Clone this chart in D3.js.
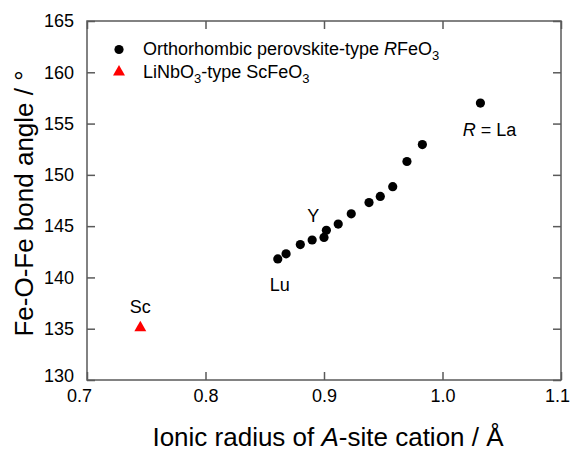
<!DOCTYPE html>
<html lang="en">
<head>
<meta charset="utf-8">
<title>Fe-O-Fe bond angle vs ionic radius</title>
<style>
  body { margin: 0; background: #fff; }
  text { font-family: Arial, "Liberation Sans", sans-serif; fill: #000; }
</style>
</head>
<body>
<div id="chart"></div>
<script src="https://cdn.jsdelivr.net/npm/d3@7/dist/d3.min.js"></script>
<script>
// orthorhombic RFeO3 (La ... Lu)
const rLabels = ['La', 'Pr', 'Nd', 'Sm', 'Eu', 'Gd', 'Tb', 'Dy', 'Y', 'Ho', 'Er', 'Tm', 'Yb', 'Lu'];
const rRadius = [1.032, 0.983, 0.970, 0.958, 0.9475, 0.938, 0.923, 0.912, 0.902, 0.900, 0.890, 0.880, 0.868, 0.861];
const rAngle = [157.0, 152.95, 151.3, 148.85, 147.9, 147.3, 146.2, 145.2, 144.6, 143.9, 143.65, 143.2, 142.3, 141.8];
// LiNbO3-type ScFeO3
const scRadius = [0.745];
const scAngle = [135.1];

const xTicks = [0.7, 0.8, 0.9, 1.0, 1.1];
const yTicks = [130, 135, 140, 145, 150, 155, 160, 165];

const width = 577, height = 453,
    margin = {top: 21, right: 16, bottom: 73, left: 87};
const w = width - margin.left - margin.right,
    h = height - margin.top - margin.bottom;

const svg = d3.select('#chart').append('svg')
    .attr('width', width)
    .attr('height', height);

const g = svg.append('g')
    .attr('transform', `translate(${margin.left}, ${margin.top})`);

const x = d3.scaleLinear().domain([0.7, 1.1]).range([0, w]);
const y = d3.scaleLinear().domain([130, 165]).range([h, 0]);

const frame = '#5a5a5a';
const tickLen = 8;

// axes, ticks pointing inward, mirrored on top/right
const styleAxis = sel => {
    sel.select('.domain').remove();
    sel.selectAll('.tick line').attr('stroke', frame).attr('stroke-width', 1.5);
    sel.selectAll('.tick text').style('font-size', '18px')
        .style('font-family', 'Arial, "Liberation Sans", sans-serif').attr('fill', '#000');
};

g.append('g')
    .attr('transform', `translate(0, ${h})`)
    .call(d3.axisBottom(x).tickValues(xTicks).tickFormat(d3.format('.1f'))
        .tickSizeInner(-tickLen).tickPadding(tickLen + 3))
    .call(styleAxis)
    .call(a => a.selectAll('.tick text').attr('dy', '0.6em'))
    .call(a => a.selectAll('.tick').filter(d => d === 0.7).select('text').attr('dx', -8))
    .call(a => a.selectAll('.tick').filter(d => d === 1.1).select('text').attr('dx', -4));

g.append('g')
    .call(d3.axisLeft(y).tickValues(yTicks).tickSizeInner(-tickLen).tickPadding(tickLen + 5))
    .call(styleAxis)
    .call(a => a.selectAll('.tick').filter(d => d === 130).select('text').attr('dy', '0.1em'));

g.append('g')
    .call(d3.axisTop(x).tickValues(xTicks).tickSizeInner(-tickLen).tickFormat(''))
    .call(styleAxis);

g.append('g')
    .attr('transform', `translate(${w}, 0)`)
    .call(d3.axisRight(y).tickValues(yTicks).tickSizeInner(-tickLen).tickFormat(''))
    .call(styleAxis);

g.append('rect')
    .attr('width', w).attr('height', h)
    .attr('fill', 'none').attr('stroke', frame).attr('stroke-width', 1.5);

// axis titles
svg.append('text')
    .attr('x', margin.left + w / 2 + 4)
    .attr('y', 446)
    .attr('text-anchor', 'middle')
    .style('font-size', '26px')
    .call(t => {
        t.append('tspan').text('Ionic radius of ');
        t.append('tspan').style('font-style', 'italic').text('A');
        t.append('tspan').text('-site cation / Å');
    });

svg.append('text')
    .attr('transform', `translate(33, ${margin.top + h / 2 + 3}) rotate(-90)`)
    .attr('text-anchor', 'middle')
    .style('font-size', '26px')
    .text('Fe-O-Fe bond angle / °');

// points
const rData = rLabels.map((l, i) => ({label: l, r: rRadius[i], a: rAngle[i]}));
g.selectAll('circle.rfeo3')
    .data(rData)
    .join('circle')
    .attr('class', 'rfeo3')
    .attr('cx', d => x(d.r))
    .attr('cy', d => y(d.a))
    .attr('r', 4.6)
    .attr('fill', '#000');

const tri = d3.symbol().type(d3.symbolTriangle).size(62);
const scData = scRadius.map((r, i) => ({r: r, a: scAngle[i]}));
g.selectAll('path.sc')
    .data(scData)
    .join('path')
    .attr('class', 'sc')
    .attr('d', tri)
    .attr('transform', d => `translate(${x(d.r)}, ${y(d.a)})`)
    .attr('fill', '#ff0000');

// annotations next to points
const ann = g.append('g').style('font-size', '18px').attr('text-anchor', 'middle');
const la = rData.find(d => d.label === 'La');
ann.append('text')
    .attr('x', x(la.r) + 9).attr('y', y(la.a) + 33)
    .call(t => {
        t.append('tspan').style('font-style', 'italic').text('R');
        t.append('tspan').text(' = La');
    });
const yy = rData.find(d => d.label === 'Y');
ann.append('text').attr('x', x(yy.r) - 13).attr('y', y(yy.a) - 8).text('Y');
const lu = rData.find(d => d.label === 'Lu');
ann.append('text').attr('x', x(lu.r) + 2).attr('y', y(lu.a) + 32).text('Lu');
ann.append('text').attr('x', x(scData[0].r)).attr('y', y(scData[0].a) - 15).text('Sc');

// legend
const legend = svg.append('g').style('font-size', '18px');
legend.append('circle').attr('cx', 119).attr('cy', 49.5).attr('r', 4.6).attr('fill', '#000');
legend.append('text').attr('x', 143).attr('y', 55)
    .call(t => {
        t.append('tspan').text('Orthorhombic perovskite-type ');
        t.append('tspan').style('font-style', 'italic').text('R');
        t.append('tspan').text('FeO');
        t.append('tspan').attr('dy', 5).style('font-size', '13px').text('3');
    });
legend.append('path').attr('d', tri).attr('transform', 'translate(119, 72)').attr('fill', '#ff0000');
legend.append('text').attr('x', 143).attr('y', 78)
    .call(t => {
        t.append('tspan').text('LiNbO');
        t.append('tspan').attr('dy', 5).style('font-size', '13px').text('3');
        t.append('tspan').attr('dy', -5).text('-type ScFeO');
        t.append('tspan').attr('dy', 5).style('font-size', '13px').text('3');
    });
</script>
</body>
</html>
